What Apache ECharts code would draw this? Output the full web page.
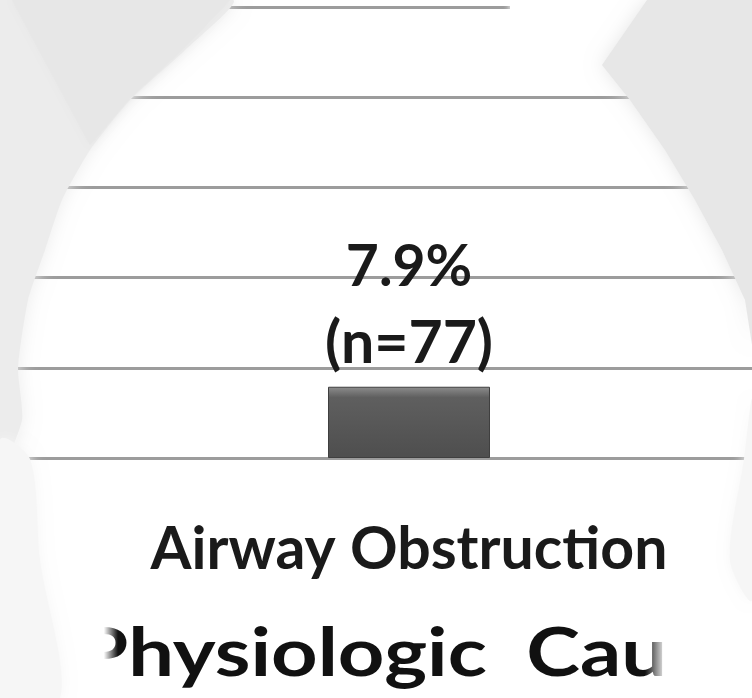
<!DOCTYPE html>
<html>
<head>
<meta charset="utf-8">
<script src="https://cdn.jsdelivr.net/npm/echarts@6/dist/echarts.min.js"></script>
<style>
  html, body { margin: 0; padding: 0; background: #fff; }
  #main { width: 752px; height: 698px; }
</style>
</head>
<body>
<div id="main"></div>
<script>
// data
var categories = ['Airway Obstruction'];
var percents = [7.9];
var counts = [77];
var yTicks = [0, 10, 20, 30, 40, 50];
var axisTitle = 'Physiologic  Causes';

var chart = echarts.init(document.getElementById('main'));

var grey = '#e7e7e7';

var yBase = {
    type: 'value',
    min: yTicks[0],
    max: yTicks[yTicks.length - 1],
    interval: 10,
    axisLabel: { show: false },
    axisLine: { show: false },
    axisTick: { show: false }
};

var option = {
    backgroundColor: '#ffffff',
    animation: false,
    // grid 0 only carries the full-width gridlines, grid 1 holds the bar
    grid: [
        { left: 0, right: 0, top: 7, bottom: 240 },
        { left: 66, right: 0, top: 7, bottom: 240 }
    ],
    xAxis: [
        { type: 'category', gridIndex: 0, data: categories, show: false },
        {
            type: 'category',
            gridIndex: 1,
            data: categories,
            axisLine: { show: false },
            axisTick: { show: false },
            axisLabel: {
                margin: 62,
                fontFamily: 'Lato',
                fontWeight: 'bold',
                fontSize: 59,
                color: '#1a1a1a'
            }
        }
    ],
    yAxis: [
        Object.assign({}, yBase, {
            gridIndex: 0,
            splitLine: { show: true, lineStyle: { color: '#9c9c9c', width: 3 } }
        }),
        Object.assign({}, yBase, {
            gridIndex: 1,
            splitLine: { show: false }
        })
    ],
    series: [
        {
            type: 'bar',
            xAxisIndex: 1,
            yAxisIndex: 1,
            data: percents,
            barWidth: 162,
            itemStyle: {
                color: {
                    type: 'linear', x: 0, y: 0, x2: 0, y2: 1,
                    colorStops: [
                        { offset: 0, color: '#8e8e8e' },
                        { offset: 0.15, color: '#5f5f5f' },
                        { offset: 1, color: '#4e4e4e' }
                    ]
                },
                borderColor: '#3f3f3f',
                borderWidth: 1
            },
            label: {
                show: true,
                position: 'top',
                distance: 5,
                formatter: function (p) {
                    return '{a|' + percents[p.dataIndex] + '%}\n{b|(n=' + counts[p.dataIndex] + ')}';
                },
                rich: {
                    a: { fontFamily: 'Lato', fontWeight: 'bold', fontSize: 57, lineHeight: 76, color: '#1a1a1a' },
                    b: { fontFamily: 'Lato', fontWeight: 'bold', fontSize: 59, lineHeight: 76, color: '#1a1a1a' }
                }
            }
        }
    ],
    graphic: [
        // short top line
        {
            type: 'rect', z: 49, silent: true,
            shape: { x: 510, y: 0, width: 140, height: 15 },
            style: { fill: '#ffffff', shadowBlur: 6, shadowColor: '#ffffff' }
        },
        // top-left vignette
        {
            type: 'polygon', z: 50, silent: true,
            shape: { points: [[0, 0], [233, 0], [185, 50], [130, 100], [90, 150], [62, 200], [45, 250], [28, 300], [18, 368], [22, 420], [0, 470]], smooth: 0.2 },
            style: { fill: '#ececec', shadowBlur: 18, shadowColor: '#ececec' }
        },
        {
            type: 'polygon', z: 51, silent: true,
            shape: { points: [[12, 0], [230, 0], [184, 48], [130, 98], [90, 145]] },
            style: { fill: grey, shadowBlur: 6, shadowColor: grey }
        },
        {
            type: 'polygon', z: 50, silent: true,
            shape: { points: [[0, 440], [30, 459], [40, 560], [60, 698], [0, 698]], smooth: 0.3 },
            style: { fill: '#f6f6f6', shadowBlur: 14, shadowColor: '#f6f6f6' }
        },
        // top-right vignette
        {
            type: 'polygon', z: 50, silent: true,
            shape: { points: [[647, 0], [752, 0], [752, 345], [745, 300], [722, 250], [695, 200], [665, 150], [630, 100], [602, 65]] },
            style: { fill: grey, shadowBlur: 18, shadowColor: grey }
        },
        {
            type: 'polygon', z: 50, silent: true,
            shape: { points: [[752, 400], [744, 459], [730, 560], [752, 600]], smooth: 0.3 },
            style: { fill: '#f6f6f6', shadowBlur: 12, shadowColor: '#f6f6f6' }
        },
        // axis title, stretched like the photo, ends faded out
        {
            type: 'text', z: 40, silent: true,
            x: 78, y: 655, scaleX: 1.23,
            style: {
                text: axisTitle,
                fontFamily: 'Lato', fontWeight: 'bold', fontSize: 66,
                fill: '#111111',
                verticalAlign: 'middle'
            }
        },
        {
            type: 'rect', z: 45, silent: true,
            shape: { x: 0, y: 600, width: 118, height: 98 },
            style: {
                fill: {
                    type: 'linear', x: 0, y: 0, x2: 1, y2: 0,
                    colorStops: [
                        { offset: 0, color: 'rgba(255,255,255,1)' },
                        { offset: 0.88, color: 'rgba(255,255,255,1)' },
                        { offset: 1, color: 'rgba(255,255,255,0)' }
                    ]
                }
            }
        },
        {
            type: 'rect', z: 45, silent: true,
            shape: { x: 645, y: 600, width: 107, height: 98 },
            style: {
                fill: {
                    type: 'linear', x: 0, y: 0, x2: 1, y2: 0,
                    colorStops: [
                        { offset: 0, color: 'rgba(255,255,255,0)' },
                        { offset: 0.2, color: 'rgba(255,255,255,1)' },
                        { offset: 1, color: 'rgba(255,255,255,1)' }
                    ]
                }
            }
        }
    ]
};

chart.setOption(option);
</script>
</body>
</html>
